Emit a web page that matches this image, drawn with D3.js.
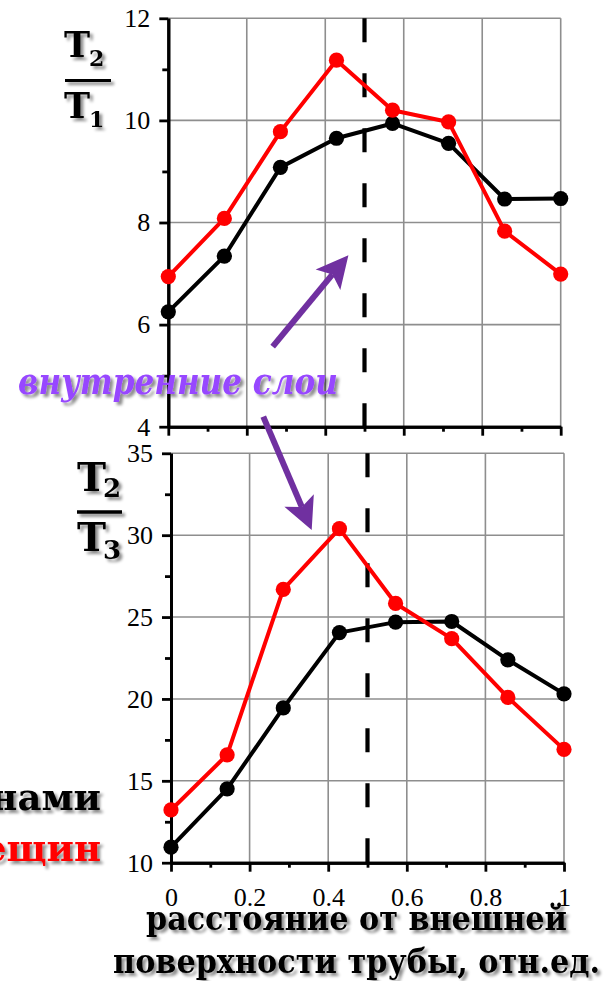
<!DOCTYPE html>
<html>
<head>
<meta charset="utf-8">
<script src="https://cdn.jsdelivr.net/npm/d3@7"></script>
<style>
  html, body { margin: 0; padding: 0; background: #fff; }
  svg { display: block; }
</style>
</head>
<body>
<div id="chart"></div>
<script>
// Relative position across the pipe wall (0 = outer surface, 1 = inner surface)
const positions = [0, 1 / 7, 2 / 7, 3 / 7, 4 / 7, 5 / 7, 6 / 7, 1];

// T2/T1 ratio
const ratio21Black = [6.25, 7.34, 9.08, 9.65, 9.94, 9.55, 8.46, 8.47];
const ratio21Red   = [6.94, 8.08, 9.78, 11.18, 10.20, 9.97, 7.83, 6.99];

// T2/T3 ratio
const ratio23Black = [10.95, 14.51, 19.45, 24.05, 24.69, 24.73, 22.39, 20.31];
const ratio23Red   = [13.22, 16.59, 26.69, 30.40, 25.83, 23.68, 20.09, 16.92];

const xMajorTicks = [0, 0.2, 0.4, 0.6, 0.8, 1];
const xMinorTicks = [0.1, 0.3, 0.5, 0.7, 0.9];
const xTickLabels = ["0", "0.2", "0.4", "0.6", "0.8", "1"];

const topMajorTicks = [4, 6, 8, 10, 12];
const topMinorTicks = [5, 7, 9, 11];
const bottomMajorTicks = [10, 15, 20, 25, 30, 35];
const bottomMinorTicks = [12.5, 17.5, 22.5, 27.5, 32.5];

const boundary = 0.5;   // middle of the wall
const legendText = ["нами", "ещин"];
const xTitle = ["расстояние от внешней", "поверхности трубы, отн.ед."];
const innerLabel = "внутренние слои";

const W = 614, H = 981;
const svg = d3.select("#chart").append("svg")
  .attr("width", W).attr("height", H)
  .attr("viewBox", `0 0 ${W} ${H}`);

const defs = svg.append("defs");
const shadow = defs.append("filter").attr("id", "shadow")
  .attr("x", "-10%").attr("y", "-20%").attr("width", "130%").attr("height", "150%");
shadow.append("feDropShadow")
  .attr("dx", 3).attr("dy", 3).attr("stdDeviation", 1.6)
  .attr("flood-color", "#000").attr("flood-opacity", 0.45);

const tickFont = "Liberation Serif, serif";
const titleFont = "DejaVu Serif, serif";
const GRID = "#8e8e8e";
const RED = "#ff0000";
const PURPLE_ARROW = "#7030a0";

const panels = [
  {
    x: d3.scaleLinear().domain([0, 1]).range([168.3, 560.7]),
    y: d3.scaleLinear().domain([4, 12]).range([426.7, 18.3]),
    major: topMajorTicks, minor: topMinorTicks,
    black: ratio21Black, red: ratio21Red, xLabels: false
  },
  {
    x: d3.scaleLinear().domain([0, 1]).range([171, 564]),
    y: d3.scaleLinear().domain([10, 35]).range([862.7, 453.3]),
    major: bottomMajorTicks, minor: bottomMinorTicks,
    black: ratio23Black, red: ratio23Red, xLabels: true
  }
];

function styleAxis(sel) {
  sel.attr("font-family", tickFont).attr("font-size", 26);
  sel.select(".domain").attr("stroke", "#000").attr("stroke-width", 3);
  sel.selectAll(".tick line").attr("stroke", "#000").attr("stroke-width", 2.8);
  sel.selectAll(".tick text")
    .attr("fill", "#000")
    .attr("font-family", tickFont)
    .attr("font-size", 26);
}

function drawPanel(p) {
  const g = svg.append("g");
  const [x0, x1] = p.x.range();
  const [y0, y1] = p.y.range();

  // grid
  const grid = g.append("g").attr("stroke", GRID).attr("stroke-width", 1.6);
  grid.selectAll("line.v").data(xMajorTicks.filter(d => d > 0)).join("line")
    .attr("x1", d => p.x(d)).attr("x2", d => p.x(d))
    .attr("y1", y0).attr("y2", y1);
  grid.selectAll("line.h").data(p.major.slice(1)).join("line")
    .attr("x1", x0).attr("x2", x1)
    .attr("y1", d => p.y(d)).attr("y2", d => p.y(d));

  // minor ticks
  const yMinor = d3.axisLeft(p.y).tickValues(p.minor).tickSize(6).tickSizeOuter(0).tickFormat("");
  const xMinor = d3.axisBottom(p.x).tickValues(xMinorTicks).tickSize(5).tickSizeOuter(0).tickFormat("");
  g.append("g").attr("transform", `translate(${x0},0)`).call(yMinor).call(styleAxis);
  g.append("g").attr("transform", `translate(0,${y0})`).call(xMinor).call(styleAxis);

  // major ticks and labels
  const yAxis = d3.axisLeft(p.y).tickValues(p.major).tickSize(9).tickPadding(9)
    .tickSizeOuter(0).tickFormat(d3.format("d"));
  const xAxis = d3.axisBottom(p.x).tickValues(xMajorTicks).tickSize(9).tickPadding(16)
    .tickSizeOuter(0).tickFormat((d, i) => p.xLabels ? xTickLabels[i] : "");
  g.append("g").attr("transform", `translate(${x0},0)`).call(yAxis).call(styleAxis);
  g.append("g").attr("transform", `translate(0,${y0})`).call(xAxis).call(styleAxis);

  // boundary between outer and inner layers
  g.append("line")
    .attr("x1", p.x(boundary)).attr("x2", p.x(boundary))
    .attr("y1", y1).attr("y2", y0)
    .attr("stroke", "#000").attr("stroke-width", 4.2)
    .attr("stroke-dasharray", "24 31");

  // series
  const series = [
    { values: p.black, color: "#000" },
    { values: p.red, color: RED }
  ];
  series.forEach(s => {
    const pts = positions.map((d, i) => [d, s.values[i]]);
    g.append("path")
      .attr("d", d3.line().x(d => p.x(d[0])).y(d => p.y(d[1]))(pts))
      .attr("fill", "none").attr("stroke", s.color)
      .attr("stroke-width", 4).attr("stroke-linejoin", "round");
    g.append("g").selectAll("circle").data(pts).join("circle")
      .attr("cx", d => p.x(d[0])).attr("cy", d => p.y(d[1]))
      .attr("r", 7.6).attr("fill", s.color);
  });
}

panels.forEach(drawPanel);

// ratio labels on the y axes
function fraction(tx, topBase, botBase, barY, barX1, barX2, size, subSize, subTop, subBot, subDx, subDyTop, subDyBot, barW) {
  const g = svg.append("g").attr("filter", "url(#shadow)")
    .attr("font-family", titleFont).attr("font-weight", "bold").attr("fill", "#000");
  g.append("text").attr("x", tx).attr("y", topBase).attr("font-size", size).text("T");
  g.append("text").attr("x", tx + subDx).attr("y", topBase + subDyTop).attr("font-size", subSize).text(subTop);
  g.append("line").attr("x1", barX1).attr("x2", barX2).attr("y1", barY).attr("y2", barY)
    .attr("stroke", "#000").attr("stroke-width", barW);
  g.append("text").attr("x", tx).attr("y", botBase).attr("font-size", size).text("T");
  g.append("text").attr("x", tx + subDx).attr("y", botBase + subDyBot).attr("font-size", subSize).text(subBot);
}
fraction(64, 57, 118, 80.5, 65, 111, 35, 22, "2", "1", 25, 9, 9, 3);
fraction(77, 491, 551, 512, 77, 122, 39, 26, "2", "3", 26, 6, 8, 3.5);

// x-axis title
const xt = svg.append("g").attr("filter", "url(#shadow)")
  .attr("font-family", titleFont).attr("font-weight", "bold").attr("fill", "#000");
xt.append("text").attr("x", 146).attr("y", 930).attr("font-size", 33)
  .attr("textLength", 421).attr("lengthAdjust", "spacingAndGlyphs").text(xTitle[0]);
xt.append("text").attr("x", 113).attr("y", 973).attr("font-size", 33)
  .attr("textLength", 487).attr("lengthAdjust", "spacingAndGlyphs").text(xTitle[1]);

// series captions (partly outside the frame)
const lg = svg.append("g").attr("filter", "url(#shadow)")
  .attr("font-family", titleFont).attr("font-weight", "bold")
  .attr("font-size", 37).attr("text-anchor", "end");
lg.append("text").attr("x", 101).attr("y", 810).attr("fill", "#000").text(legendText[0]);
lg.append("text").attr("x", 101).attr("y", 861).attr("fill", RED).text(legendText[1]);

// inner layers annotation
svg.append("text").attr("filter", "url(#shadow)")
  .attr("x", 18).attr("y", 394)
  .attr("font-family", titleFont).attr("font-weight", "bold").attr("font-style", "italic")
  .attr("font-size", 38).attr("fill", "#9747ff")
  .attr("textLength", 320).attr("lengthAdjust", "spacingAndGlyphs")
  .text(innerLabel);

// arrows pointing to the inner layers, given in each panel's data coordinates
const arrows = [
  { from: [panels[0], 0.266, 5.57], to: [panels[0], 0.459, 7.36] },
  { from: [panels[0], 0.242, 4.196], to: [panels[1], 0.358, 30.32] }
];
arrows.forEach(a => {
  const [pf, fx, fy] = a.from, [pt, tx, ty] = a.to;
  const x1 = pf.x(fx), y1 = pf.y(fy), x2 = pt.x(tx), y2 = pt.y(ty);
  const len = Math.hypot(x2 - x1, y2 - y1);
  const ux = (x2 - x1) / len, uy = (y2 - y1) / len;
  const headLen = 32, half = 16, notch = 7;
  const bx = x2 - ux * headLen, by = y2 - uy * headLen;
  svg.append("line")
    .attr("x1", x1).attr("y1", y1)
    .attr("x2", bx + ux * notch).attr("y2", by + uy * notch)
    .attr("stroke", PURPLE_ARROW).attr("stroke-width", 6);
  const pts = [
    [x2, y2],
    [bx - uy * half, by + ux * half],
    [bx + ux * notch, by + uy * notch],
    [bx + uy * half, by - ux * half]
  ];
  svg.append("polygon").attr("points", pts.map(p => p.join(",")).join(" "))
    .attr("fill", PURPLE_ARROW);
});
</script>
</body>
</html>
